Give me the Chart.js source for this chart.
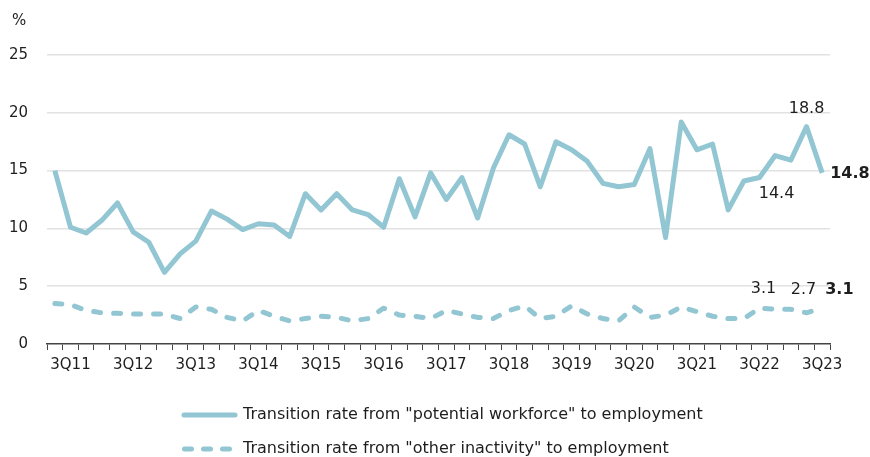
<!DOCTYPE html>
<html>
<head>
<meta charset="utf-8">
<script src="https://cdn.jsdelivr.net/npm/chart.js@4.4.0/dist/chart.umd.min.js"></script>
<style>
	html, body { margin: 0; padding: 0; background: #fff; }
	#wrap { width: 870px; height: 457px; }
</style>
</head>
<body>
<div id="wrap"><canvas id="chart" width="870" height="457"></canvas></div>
<script>
/*  Transition rates to employment, quarterly  */

const quarters = [
	'2Q11', '3Q11', '4Q11', '1Q12', '2Q12', '3Q12', '4Q12', '1Q13', '2Q13', '3Q13',
	'4Q13', '1Q14', '2Q14', '3Q14', '4Q14', '1Q15', '2Q15', '3Q15', '4Q15', '1Q16',
	'2Q16', '3Q16', '4Q16', '1Q17', '2Q17', '3Q17', '4Q17', '1Q18', '2Q18', '3Q18',
	'4Q18', '1Q19', '2Q19', '3Q19', '4Q19', '1Q20', '2Q20', '3Q20', '4Q20', '1Q21',
	'2Q21', '3Q21', '4Q21', '1Q22', '2Q22', '3Q22', '4Q22', '1Q23', '2Q23', '3Q23'
];

const potentialWorkforce = [
	15.0, 10.1, 9.6, 10.7, 12.2, 9.7, 8.8, 6.2, 7.8, 8.9,
	11.5, 10.8, 9.9, 10.4, 10.3, 9.3, 13.0, 11.6, 13.0, 11.6,
	11.2, 10.1, 14.3, 11.0, 14.8, 12.5, 14.4, 10.9, 15.2, 18.1,
	17.3, 13.6, 17.5, 16.8, 15.8, 13.9, 13.6, 13.8, 16.9, 9.2,
	19.2, 16.8, 17.3, 11.6, 14.1, 14.4, 16.3, 15.9, 18.8, 14.8
];

const otherInactivity = [
	3.5, 3.4, 2.9, 2.7, 2.65, 2.6, 2.6, 2.6, 2.2, 3.2,
	3.0, 2.3, 2.0, 2.9, 2.4, 2.0, 2.2, 2.4, 2.3, 2.0,
	2.2, 3.1, 2.5, 2.4, 2.2, 2.9, 2.6, 2.3, 2.2, 2.9,
	3.3, 2.2, 2.4, 3.3, 2.6, 2.2, 2.0, 3.2, 2.3, 2.5,
	3.2, 2.8, 2.4, 2.2, 2.2, 3.1, 3.0, 3.0, 2.7, 3.1
];

const seriesNames = [
	'Transition rate from "potential workforce" to employment',
	'Transition rate from "other inactivity" to employment'
];

const yTicks = [0, 5, 10, 15, 20, 25];

const lineColor = '#93c6d3';
const textColor = '#1e1e1e';
const fontFamily = '"DejaVu Sans", Verdana, sans-serif';

/* which points get a value label, and where it sits */
const pointLabels = [
	{ set: 0, index: 45, dx: 17, dy: 16, align: 'center', bold: false },
	{ set: 0, index: 48, dx: 0, dy: -18, align: 'center', bold: false },
	{ set: 0, index: 49, dx: 8, dy: 1, align: 'left', bold: true },
	{ set: 1, index: 45, dx: 4, dy: -19, align: 'center', bold: false },
	{ set: 1, index: 48, dx: -3, dy: -23, align: 'center', bold: false },
	{ set: 1, index: 49, dx: 3, dy: -18, align: 'left', bold: true }
];

let extras = {
	id: 'extras',
	afterDraw(chart) {
		let ctx = chart.ctx;
		ctx.save();

		/* unit on top of the y axis */
		ctx.fillStyle = textColor;
		ctx.font = '15px ' + fontFamily;
		ctx.textAlign = 'left';
		ctx.textBaseline = 'middle';
		ctx.fillText('%', 12, 21);

		/* value labels */
		pointLabels.forEach(function (lbl) {
			let pt = chart.getDatasetMeta(lbl.set).data[lbl.index];
			let value = chart.data.datasets[lbl.set].data[lbl.index];
			ctx.font = (lbl.bold ? 'bold ' : '') + '16px ' + fontFamily;
			ctx.textAlign = lbl.align;
			ctx.fillText(value.toFixed(1), pt.x + lbl.dx, pt.y + lbl.dy);
		});

		/* legend, two rows, left aligned */
		let rows = [415, 449];
		ctx.strokeStyle = lineColor;
		ctx.lineWidth = 5;
		ctx.lineCap = 'round';
		for (let i = 0; i < rows.length; i++) {
			ctx.beginPath();
			if (i === 1) {
				ctx.setLineDash([7, 12]);
				ctx.moveTo(184.5, rows[i]);
				ctx.lineTo(232, rows[i]);
			} else {
				ctx.setLineDash([]);
				ctx.moveTo(184, rows[i]);
				ctx.lineTo(235, rows[i]);
			}
			ctx.stroke();
			ctx.font = '16px ' + fontFamily;
			ctx.textAlign = 'left';
			ctx.fillText(seriesNames[i], 243, rows[i]);
		}
		ctx.restore();
	}
};

Chart.defaults.font.family = fontFamily;
Chart.defaults.color = textColor;

let ctxL = document.getElementById('chart').getContext('2d');
let myLineChart = new Chart(ctxL, {
	type: 'line',
	data: {
		labels: quarters,
		datasets: [
			{
				label: seriesNames[0],
				data: potentialWorkforce,
				borderColor: lineColor,
				borderWidth: 5,
				borderJoinStyle: 'round',
				pointRadius: 0,
				tension: 0
			},
			{
				label: seriesNames[1],
				data: otherInactivity,
				borderColor: lineColor,
				borderWidth: 5,
				borderDash: [7, 13],
				borderCapStyle: 'round',
				borderJoinStyle: 'round',
				pointRadius: 0,
				tension: 0
			}
		]
	},
	options: {
		responsive: false,
		animation: false,
		layout: {
			padding: { top: 55, right: 40, bottom: 73, left: 0 }
		},
		plugins: {
			legend: { display: false },
			tooltip: { enabled: false }
		},
		scales: {
			x: {
				offset: true,
				grid: {
					offset: true,
					drawOnChartArea: false,
					drawTicks: true,
					tickLength: 6,
					color: '#444',
					lineWidth: 1
				},
				border: { display: true, color: '#444', width: 1.5 },
				ticks: {
					autoSkip: false,
					maxRotation: 0,
					padding: 6,
					font: { size: 15 },
					color: textColor,
					callback: function (value) {
						let q = this.getLabelForValue(value);
						return q.indexOf('3Q') === 0 ? q : '';
					}
				},
				afterFit: function (scale) {
					scale.height = 40;
				}
			},
			y: {
				min: yTicks[0],
				max: yTicks[yTicks.length - 1],
				afterBuildTicks: function (scale) {
					scale.ticks = yTicks.map(function (v) { return { value: v }; });
				},
				grid: {
					drawTicks: false,
					color: function (c) {
						return c.tick && c.tick.value === 0 ? 'rgba(0,0,0,0)' : '#e2e2e2';
					},
					lineWidth: 1.5
				},
				border: { display: false },
				ticks: {
					padding: 19,
					font: { size: 15 },
					color: textColor
				},
				afterFit: function (scale) {
					scale.width = 47;
				}
			}
		}
	},
	plugins: [extras]
});
</script>
</body>
</html>
